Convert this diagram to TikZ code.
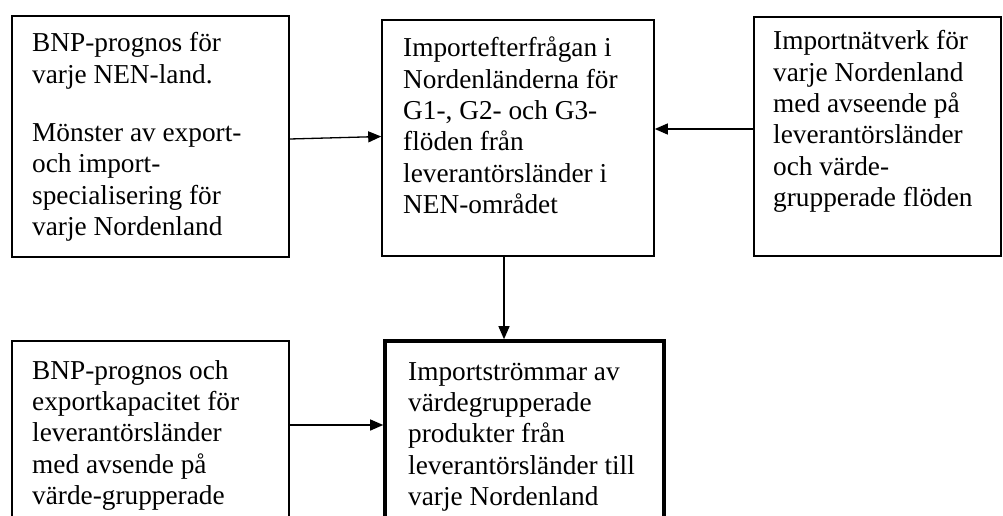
\documentclass[tikz,border=0pt]{standalone}
\usepackage{fontspec}
\setmainfont{Liberation Serif}
\usetikzlibrary{fit,arrows.meta}
\begin{document}
\begin{tikzpicture}[x=1pt,y=-1pt,
  box/.style={draw,line width=1.6pt,inner sep=0pt},
  thickbox/.style={draw,line width=3.6pt,inner sep=0pt},
  txt/.style={anchor=north west,inner sep=0pt,align=left,
    font=\fontsize{27.3}{31.4}\selectfont},
  arr/.style={line width=1.3pt,-{Triangle[length=13pt,width=11pt]}}]
\useasboundingbox (0,0) rectangle (1003,516);
\clip (0,0) rectangle (1003,516);
\node[box,fit={(12,16)(289,257)}] (A) {};
\node[box,fit={(382,20)(654,256)}] (B) {};
\node[box,fit={(754,17)(1001,256)}] (C) {};
\node[thickbox,fit={(385,341)(664,540)}] (D) {};
\node[box,fit={(12,341)(289,540)}] (E) {};
\node[txt] (tA) at (32,29.5) {\strut BNP-prognos för\\ varje NEN-land.\\[27pt] Mönster av export-\\ och import-\\ specialisering för\\ varje Nordenland};
\node[txt] (tB) at (403,34.5) {\strut Importefterfrågan i\\ Nordenländerna för\\ G1-, G2- och G3-\\ flöden från\\ leverantörsländer i\\ NEN-området};
\node[txt] (tC) at (773,27.5) {\strut Importnätverk för\\ varje Nordenland\\ med avseende på\\ leverantörsländer\\ och värde-\\ grupperade flöden};
\node[txt] (tD) at (408,358) {\strut Importströmmar av\\ värdegrupperade\\ produkter från\\ leverantörsländer till\\ varje Nordenland};
\node[txt] (tE) at (32,357) {\strut BNP-prognos och\\ exportkapacitet för\\ leverantörsländer\\ med avsende på\\ värde-grupperade};
\draw[arr] (A.east |- 0,139) -- (B.west |- 0,136.5);
\draw[arr] (C.west |- 0,129) -- (B.east |- 0,129);
\draw[arr] (B.south -| 504,0) -- (D.north -| 504,0);
\draw[arr] (E.east |- 0,425) -- (D.west |- 0,425);
\end{tikzpicture}
\end{document}
